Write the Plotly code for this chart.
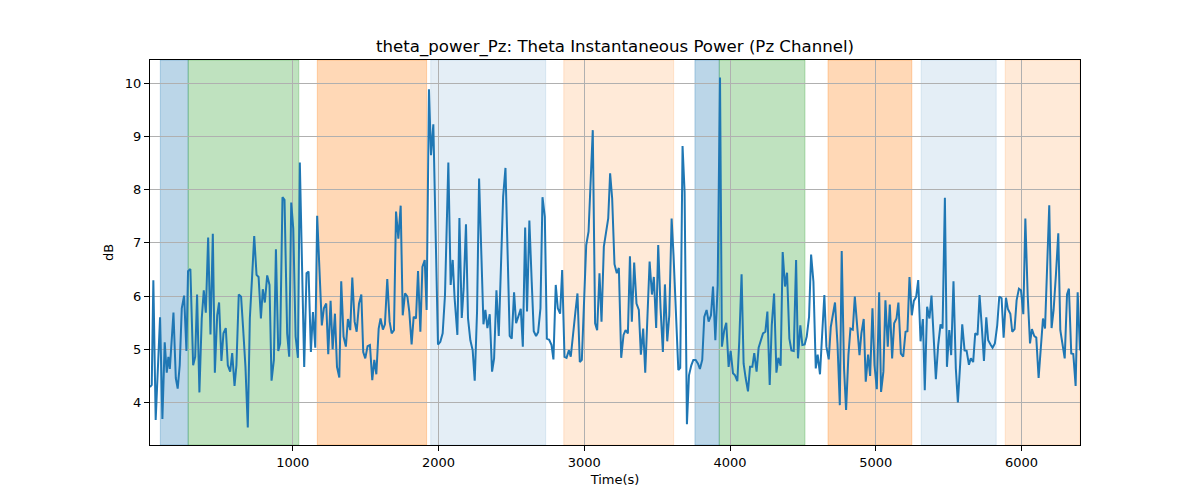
import plotly.graph_objects as go

time_s = [20, 32, 43, 59, 89, 105, 121, 135, 146, 156, 181, 197, 210, 224, 238, 254, 270, 281, 297, 316, 330, 343, 359, 375, 389, 403, 419, 435, 451, 465, 481, 494, 510, 524, 540, 554, 570, 584, 600, 613, 629, 645, 659, 675, 691, 705, 721, 735, 751, 765, 781, 794, 808, 824, 840, 854, 870, 884, 900, 913, 929, 943, 961, 975, 989, 1003, 1019, 1035, 1048, 1078,
          1094, 1108, 1124, 1138, 1154, 1167, 1199, 1213, 1229, 1243, 1259, 1273, 1289, 1303, 1319, 1332, 1348, 1364, 1378, 1394, 1408, 1424, 1438, 1454, 1470, 1483, 1497, 1513, 1529, 1545, 1559, 1573, 1589, 1602, 1618, 1632, 1648, 1664, 1678, 1694, 1708, 1724, 1740, 1754, 1770, 1786, 1799, 1815, 1829, 1845, 1859, 1875, 1889, 1905, 1918, 1934, 1948, 1964, 1996, 2012, 2028, 2044, 2067, 2083, 2097, 2110,
          2129, 2143, 2159, 2172, 2188, 2202, 2218, 2234, 2248, 2264, 2278, 2294, 2308, 2321, 2335, 2351, 2367, 2381, 2397, 2413, 2427, 2443, 2459, 2472, 2488, 2502, 2518, 2532, 2548, 2564, 2578, 2594, 2607, 2623, 2639, 2653, 2669, 2683, 2699, 2713, 2729, 2743, 2759, 2775, 2788, 2804, 2818, 2834, 2848, 2864, 2878, 2894, 2907, 2923, 2939, 2953, 2969, 2983, 2999, 3013, 3029, 3042, 3058, 3074, 3088, 3104, 3118,
          3134, 3150, 3164, 3177, 3191, 3207, 3223, 3237, 3253, 3269, 3283, 3299, 3313, 3326, 3342, 3358, 3374, 3388, 3404, 3418, 3434, 3448, 3464, 3477, 3493, 3507, 3523, 3539, 3553, 3569, 3583, 3599, 3612, 3645, 3658, 3674, 3688, 3704, 3718, 3734, 3748, 3764, 3780, 3793, 3809, 3823, 3839, 3853, 3869, 3883, 3899, 3915, 3931, 3944, 3960, 3974, 3990, 4004, 4020, 4034, 4050, 4063, 4079, 4093, 4107, 4123,
          4137, 4153, 4166, 4182, 4196, 4212, 4226, 4242, 4256, 4272, 4286, 4302, 4318, 4331, 4347, 4361, 4377, 4391, 4407, 4421, 4437, 4453, 4466, 4482, 4496, 4512, 4526, 4542, 4556, 4572, 4588, 4601, 4617, 4631, 4647, 4661, 4677, 4691, 4707, 4720, 4737, 4753, 4766, 4782, 4796, 4812, 4826, 4842, 4856, 4872, 4888, 4901, 4917, 4931, 4947, 4961, 4977, 4991, 5007, 5023, 5036, 5052, 5066, 5082, 5096, 5112, 5126, 5142, 5155, 5172, 5188,
          5204, 5217, 5231, 5247, 5261, 5277, 5291, 5307, 5323, 5336, 5352, 5368, 5382, 5398, 5412, 5428, 5444, 5458, 5474, 5488, 5504, 5517, 5533, 5549, 5563, 5579, 5593, 5609, 5623, 5639, 5652, 5668, 5682, 5698, 5712, 5728, 5742, 5758, 5771, 5787, 5801, 5817, 5833, 5847, 5863, 5877, 5893, 5906, 5923, 5936, 5952, 5966, 5982, 5996, 6012, 6026, 6042, 6058, 6071, 6087, 6101, 6117, 6131, 6147, 6161, 6177, 6190, 6206, 6220, 6236, 6252, 6266, 6282, 6296, 6312, 6325, 6341, 6355, 6371, 6385, 6401]

power_db = [4.29, 4.33, 6.30, 3.67, 5.60, 3.69, 5.13, 4.56, 4.86, 4.63, 5.69, 4.46, 4.26, 4.70, 5.77, 6.01, 4.97, 6.47, 6.51, 4.70, 4.86, 6.03, 4.19, 5.58, 6.11, 5.69, 7.10, 5.28, 7.17, 4.56, 5.64, 5.88, 4.78, 5.30, 5.40, 4.70, 4.58, 4.93, 4.31, 4.70, 6.03, 5.99, 5.39, 4.67, 3.53, 5.58, 6.39, 7.13, 6.40, 6.36, 5.58, 6.13, 5.88, 6.39, 6.21, 4.41, 4.80, 6.88, 4.97, 5.11, 7.86, 7.81, 5.30, 4.86, 7.76, 7.27, 5.24, 4.84, 8.51, 4.67,
            6.43, 6.46, 4.95, 5.70, 5.03, 7.51, 5.45, 5.77, 5.86, 4.91, 5.91, 5.00, 5.67, 4.67, 4.47, 6.28, 5.24, 5.05, 5.57, 5.36, 6.35, 5.52, 5.33, 5.86, 6.03, 4.95, 4.83, 5.06, 5.08, 4.42, 4.80, 4.53, 5.39, 5.58, 5.37, 5.47, 6.32, 5.52, 5.30, 5.36, 7.59, 7.08, 7.70, 5.64, 6.05, 5.99, 5.71, 5.09, 5.61, 5.58, 6.47, 5.33, 6.55, 6.68, 5.74, 9.89, 8.65, 9.23, 5.09, 5.14, 5.30, 6.02, 8.51, 6.21, 6.68, 5.96,
            5.27, 7.47, 5.59, 6.14, 7.35, 5.58, 5.17, 4.98, 4.41, 5.71, 8.21, 6.61, 5.47, 5.74, 5.40, 5.66, 4.58, 4.83, 6.11, 5.25, 6.65, 7.87, 8.41, 6.77, 5.25, 5.20, 6.07, 5.49, 5.64, 5.76, 5.05, 7.29, 5.71, 7.42, 6.27, 5.34, 5.25, 5.32, 5.77, 7.86, 7.49, 5.20, 5.18, 5.08, 4.81, 6.21, 5.77, 5.67, 6.49, 4.86, 4.84, 4.98, 4.86, 5.36, 5.71, 6.05, 4.76, 4.80, 6.05, 6.96, 7.21, 8.03, 9.12, 5.49, 5.36, 6.43, 5.52,
            6.93, 7.27, 7.46, 8.31, 7.84, 6.60, 6.43, 6.53, 4.84, 5.27, 5.36, 5.30, 6.75, 5.52, 6.63, 5.86, 5.74, 4.90, 5.39, 4.56, 5.52, 6.65, 6.03, 6.36, 5.40, 6.96, 5.77, 4.95, 6.22, 5.15, 5.64, 7.46, 6.77, 4.61, 4.65, 8.82, 7.96, 3.59, 4.51, 4.70, 4.80, 4.80, 4.73, 4.63, 4.80, 5.61, 5.74, 5.52, 5.64, 6.18, 5.17, 6.21, 10.11, 5.05, 5.36, 5.50, 4.67, 4.97, 4.55, 4.51, 4.40, 5.15, 6.41, 4.73, 4.46, 4.21,
            4.67, 4.67, 4.93, 4.58, 5.03, 5.17, 5.30, 5.33, 5.71, 4.33, 5.45, 6.05, 4.56, 4.84, 4.69, 6.83, 6.18, 6.44, 5.20, 4.98, 4.97, 6.68, 4.83, 5.45, 5.08, 5.09, 5.24, 5.61, 6.78, 6.27, 4.64, 4.90, 4.53, 5.24, 6.02, 5.05, 4.81, 5.42, 5.67, 5.88, 5.11, 3.95, 6.85, 4.64, 3.86, 4.89, 5.39, 5.37, 5.99, 5.39, 4.89, 5.30, 5.57, 4.39, 4.90, 4.50, 5.77, 4.70, 4.25, 6.07, 4.20, 4.58, 5.92, 5.05, 5.84, 4.83, 5.49, 5.58, 5.88, 4.92, 4.86,
            5.33, 5.34, 6.36, 5.64, 5.91, 5.99, 6.30, 5.15, 5.57, 4.23, 5.80, 5.58, 6.01, 5.08, 4.44, 5.08, 5.47, 5.39, 7.85, 4.67, 5.36, 4.89, 6.28, 4.64, 4.00, 4.73, 5.47, 4.98, 4.97, 4.71, 4.83, 4.76, 5.30, 5.27, 6.02, 5.39, 4.78, 5.60, 5.17, 5.09, 5.03, 5.11, 5.45, 5.99, 5.96, 5.22, 5.97, 5.76, 5.67, 5.33, 5.38, 5.92, 6.14, 6.11, 5.66, 7.46, 6.02, 5.11, 5.38, 5.25, 5.22, 4.46, 5.08, 5.58, 5.39, 6.61, 7.71, 5.40, 5.74, 6.41, 7.18, 5.36, 5.02, 4.83, 6.03, 6.14, 4.92, 4.91, 4.31, 6.07, 4.98]

# shaded epochs: start, end, colour
band_start = [91, 282, 1168, 1946, 2859, 3759, 3926, 4672, 5311, 5888]
band_end = [282, 1041, 1918, 2735, 3613, 3926, 4514, 5247, 5826, 6401]
band_color = ["rgba(31,119,180,0.3)", "rgba(44,160,44,0.3)", "rgba(255,127,14,0.3)",
              "rgba(31,119,180,0.12)", "rgba(255,127,14,0.16)",
              "rgba(31,119,180,0.3)", "rgba(44,160,44,0.3)", "rgba(255,127,14,0.3)",
              "rgba(31,119,180,0.12)", "rgba(255,127,14,0.16)"]

x_ticks = [1000, 2000, 3000, 4000, 5000, 6000]
y_ticks = [4, 5, 6, 7, 8, 9, 10]

fig = go.Figure()
fig.add_trace(go.Scatter(x=time_s, y=power_db, mode="lines",
                         line=dict(color="#1f77b4", width=2), showlegend=False))

for s, e, c in zip(band_start, band_end, band_color):
    fig.add_shape(type="rect", xref="x", yref="paper", x0=s, x1=e, y0=0, y1=1,
                  fillcolor=c, line=dict(width=1, color=c), layer="between")

ymin, ymax = min(power_db), max(power_db)
pad = 0.05 * (ymax - ymin)

axis_common = dict(showline=True, mirror=True, linecolor="black", linewidth=1,
                   ticks="outside", ticklen=5, tickwidth=1, tickcolor="black",
                   showgrid=True, gridcolor="#b0b0b0", gridwidth=1, zeroline=False,
                   tickfont=dict(family="DejaVu Sans", size=13, color="black"))

fig.update_xaxes(range=[min(time_s), max(time_s)], tickvals=x_ticks,
                 title=dict(text="Time(s)", font=dict(family="DejaVu Sans", size=13, color="black"), standoff=6),
                 **axis_common)
fig.update_yaxes(range=[ymin - pad, ymax + pad], tickvals=y_ticks,
                 title=dict(text="dB", font=dict(family="DejaVu Sans", size=13, color="black"), standoff=8),
                 **axis_common)

fig.update_layout(
    width=1200, height=500,
    margin=dict(l=150, r=120, t=60, b=55),
    paper_bgcolor="white", plot_bgcolor="white",
    title=dict(text="theta_power_Pz: Theta Instantaneous Power (Pz Channel)",
               x=0.5125, xanchor="center", y=0.908, yanchor="middle",
               font=dict(family="DejaVu Sans", size=16.6, color="black")),
)

fig.write_html("out.html")
